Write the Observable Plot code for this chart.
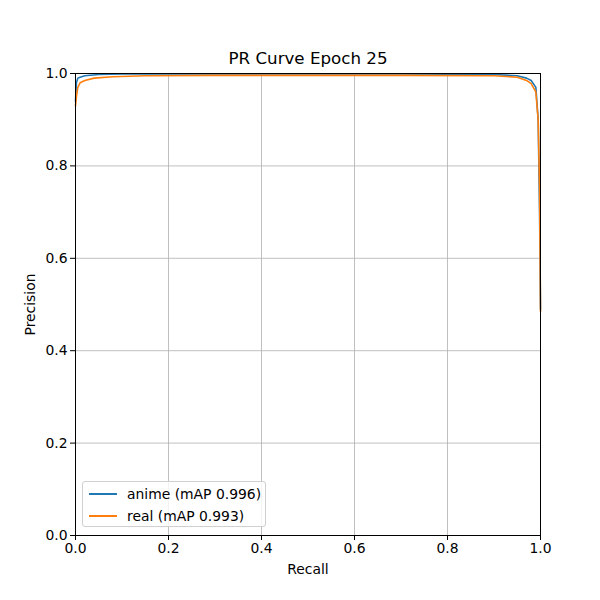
<!DOCTYPE html>
<html>
<head>
<meta charset="utf-8">
<script src="https://cdn.jsdelivr.net/npm/d3@7"></script>
<script src="https://cdn.jsdelivr.net/npm/@observablehq/plot@0.6"></script>
<style>
  body { margin: 0; background: white; }
  #wrap { position: relative; width: 600px; height: 600px; }
  #legend { position: absolute; left: 82px; top: 481px; width: 182px; height: 44px;
    border: 1px solid #d0d0d0; border-radius: 3px; background: rgba(255,255,255,0.8);
    font-family: "DejaVu Sans", sans-serif; font-size: 13.9px; color: black; }
  .row { position: absolute; left: 6px; height: 20px; display: flex; align-items: center; }
  .sw { width: 28px; height: 0; border-top: 2px solid; margin-right: 10px; }
</style>
</head>
<body>
<div id="wrap"></div>
<script>
const seriesNames = ["anime (mAP 0.996)", "real (mAP 0.993)"];
const seriesColors = ["#1f77b4", "#ff7f0e"];
const animeRecall = [0, 0.002, 0.005, 0.01, 0.02, 0.05, 0.1, 0.3, 0.5, 0.7, 0.9, 0.95, 0.97, 0.98, 0.99, 0.995, 0.998, 1.0];
const animePrecision = [0.94, 0.98, 0.99, 0.992, 0.995, 0.998, 0.999, 0.999, 0.999, 0.999, 0.998, 0.995, 0.99, 0.985, 0.97, 0.9, 0.7, 0.49];
const realRecall = [0, 0.002, 0.005, 0.01, 0.02, 0.04, 0.08, 0.15, 0.3, 0.5, 0.7, 0.9, 0.95, 0.97, 0.98, 0.99, 0.995, 0.998, 1.0];
const realPrecision = [0.93, 0.95, 0.97, 0.98, 0.985, 0.99, 0.993, 0.995, 0.996, 0.996, 0.996, 0.995, 0.992, 0.985, 0.978, 0.96, 0.9, 0.75, 0.485];
const tickValues = [0, 0.2, 0.4, 0.6, 0.8, 1.0];
const tickLabels = ["0.0", "0.2", "0.4", "0.6", "0.8", "1.0"];

const anime = animeRecall.map((r, i) => ({recall: r, precision: animePrecision[i]}));
const real = realRecall.map((r, i) => ({recall: r, precision: realPrecision[i]}));
const fmt = d => tickLabels[tickValues.findIndex(t => Math.abs(t - d) < 1e-9)];

const chart = Plot.plot({
  width: 600, height: 600,
  marginLeft: 75, marginRight: 60, marginTop: 73, marginBottom: 65,
  x: {domain: [0, 1]},
  y: {domain: [0, 1]},
  style: {fontFamily: "DejaVu Sans, sans-serif", fontSize: "13.9px", background: "white", color: "black"},
  marks: [
    Plot.gridX(tickValues, {stroke: "#b0b0b0", strokeOpacity: 1, strokeWidth: 0.8}),
    Plot.gridY(tickValues, {stroke: "#b0b0b0", strokeOpacity: 1, strokeWidth: 0.8}),
    Plot.line(anime, {x: "recall", y: "precision", stroke: seriesColors[0], strokeWidth: 1.6}),
    Plot.line(real, {x: "recall", y: "precision", stroke: seriesColors[1], strokeWidth: 1.6}),
    Plot.frame({stroke: "black", strokeWidth: 1}),
    Plot.axisX({ticks: tickValues, tickFormat: fmt, tickSize: 5, tickPadding: 3, label: null, fontSize: 13.9}),
    Plot.axisY({ticks: tickValues, tickFormat: fmt, tickSize: 5, tickPadding: 3, label: null, fontSize: 13.9}),
    Plot.text(["PR Curve Epoch 25"], {frameAnchor: "top", lineAnchor: "middle", dy: -15, fontSize: 16.7, fill: "black"}),
    Plot.text(["Recall"], {frameAnchor: "bottom", lineAnchor: "middle", dy: 34, fontSize: 13.9, fill: "black"}),
    Plot.text(["Precision"], {frameAnchor: "left", textAnchor: "middle", lineAnchor: "middle", dx: -45, rotate: -90, fontSize: 13.9, fill: "black"})
  ]
});
const wrap = document.getElementById("wrap");
wrap.appendChild(chart);
const legend = document.createElement("div");
legend.id = "legend";
seriesNames.forEach((name, i) => {
  const row = document.createElement("div");
  row.className = "row";
  row.style.top = (2 + i * 22) + "px";
  const sw = document.createElement("div");
  sw.className = "sw";
  sw.style.borderColor = seriesColors[i];
  const t = document.createElement("span");
  t.textContent = name;
  row.appendChild(sw); row.appendChild(t);
  legend.appendChild(row);
});
wrap.appendChild(legend);
</script>
</body>
</html>
